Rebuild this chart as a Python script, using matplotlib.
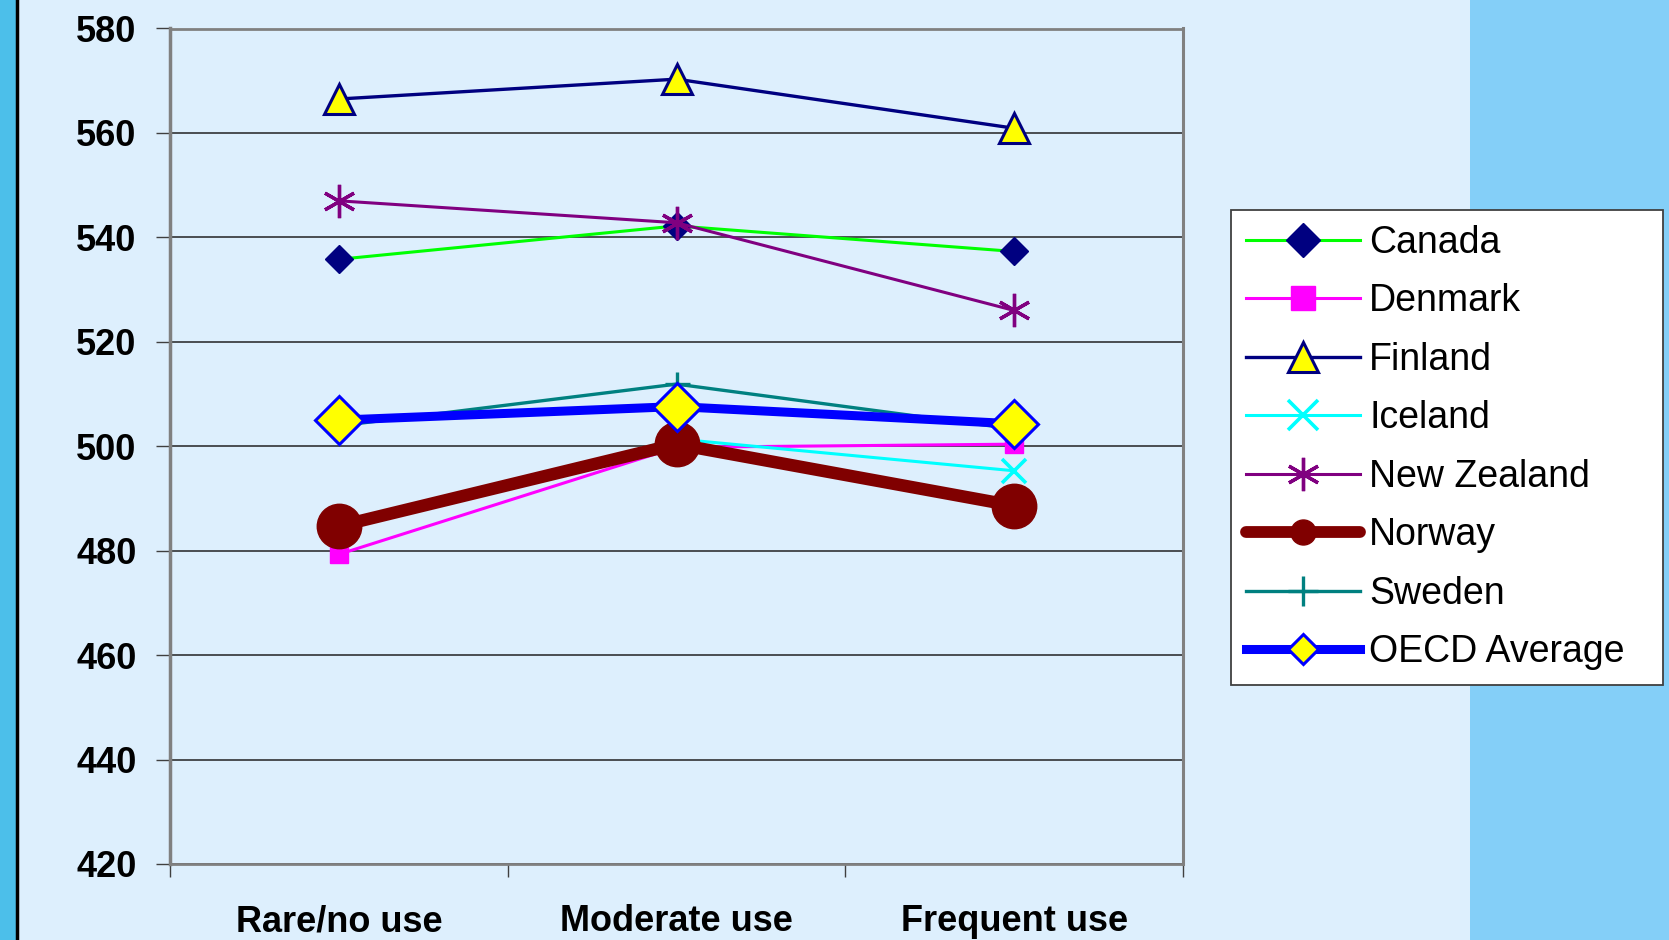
import matplotlib

matplotlib.use("Agg")
import matplotlib.pyplot as plt
from matplotlib.lines import Line2D
from matplotlib.patches import Rectangle

plt.rcParams["font.family"] = ["Liberation Sans", "DejaVu Sans"]

# data
categorias = ["Rare/no use", "Moderate use", "Frequent use"]
canada = [535.8, 542.2, 537.3]
denmark = [479.3, 499.8, 500.4]
finland = [566.5, 570.3, 560.9]
iceland = [484.1, 501.4, 495.3]
new_zealand = [547.0, 542.8, 526.0]
norway = [484.7, 500.4, 488.6]
sweden = [503.9, 511.9, 503.3]
oecd = [505.0, 507.6, 504.3]
y_ticks = [420, 440, 460, 480, 500, 520, 540, 560, 580]

FUNDO = "#DDEFFD"

# (nome, valores, estilo no grafico, estilo na legenda)
series = [
    ("Canada", canada,
     dict(color="#00FF00", lw=2.2, marker="D", ms=14, mfc="#000080", mec="#000080", mew=1),
     dict(ms=17)),
    ("Denmark", denmark,
     dict(color="#FF00FF", lw=2.2, marker="s", ms=13, mfc="#FF00FF", mec="#FF00FF", mew=1),
     dict(ms=17)),
    ("Finland", finland,
     dict(color="#000080", lw=2.4, marker="^", ms=22, mfc="#FFFF00", mec="#000080", mew=2.2),
     dict(ms=21)),
    ("Iceland", iceland,
     dict(color="#00FFFF", lw=2.2, marker="x", ms=17, mec="#00FFFF", mew=2.6),
     dict(ms=21)),
    ("New Zealand", new_zealand,
     dict(color="#800080", lw=2.2, marker=(6, 2, 0), ms=24, mec="#800080", mew=2.4),
     dict(ms=24)),
    ("Norway", norway,
     dict(color="#800000", lw=9, marker="o", ms=32, mfc="#800000", mec="#800000", mew=1,
          solid_capstyle="round"),
     dict(ms=18, lw=8.5)),
    ("Sweden", sweden,
     dict(color="#008080", lw=2.4, marker="+", ms=18, mec="#008080", mew=2.4),
     dict(ms=22)),
    ("OECD Average", oecd,
     dict(color="#0000FF", lw=6.5, marker="D", ms=24, mfc="#FFFF00", mec="#0000FF", mew=2.2),
     dict(ms=15, lw=6.5)),
]

fig = plt.figure(figsize=(16.69, 9.40), dpi=100, facecolor=FUNDO)

# faixas decorativas nas laterais
fig.patches.append(Rectangle((0, 0), 17 / 1669, 1, transform=fig.transFigure,
                             facecolor="#4CBFEA", edgecolor="none", zorder=0))
fig.add_artist(Line2D([17 / 1669, 17 / 1669], [0, 1], transform=fig.transFigure,
                      color="black", lw=2.5))
fig.patches.append(Rectangle((1470 / 1669, 0), 199 / 1669, 1, transform=fig.transFigure,
                             facecolor="#84CFF8", edgecolor="none", zorder=0))

ax = fig.add_axes([170 / 1669, 1 - 864 / 940, (1183 - 170) / 1669, (864 - 28.5) / 940])
ax.set_facecolor(FUNDO)

x = [1, 2, 3]
handles = []
for nome, valores, estilo, estilo_leg in series:
    ax.plot(x, valores, label=nome, **estilo)
    leg_estilo = dict(estilo)
    leg_estilo.update(estilo_leg)
    handles.append(Line2D([], [], **leg_estilo))

ax.set_xlim(0.5, 3.5)
ax.set_ylim(420, 580)
ax.set_yticks(y_ticks)
ax.yaxis.grid(True, color="#222222", lw=1.1)
ax.set_axisbelow(True)
ax.tick_params(axis="y", direction="out", length=10, width=1, color="#404040",
               pad=14, labelsize=26)
for lab in ax.get_yticklabels():
    lab.set_fontweight("bold")

ax.set_xticks(x)
ax.set_xticklabels(categorias, fontsize=26, fontweight="bold")
ax.set_xticks([0.5, 1.5, 2.5, 3.5], minor=True)
ax.tick_params(axis="x", which="major", length=0, pad=29)
ax.tick_params(axis="x", which="minor", direction="out", length=9, width=1, color="#404040")

for lado, larg in [("left", 2.5), ("right", 2.2), ("top", 2), ("bottom", 2)]:
    ax.spines[lado].set_color("#808080")
    ax.spines[lado].set_linewidth(larg)

leg_x0 = 1230.5 / 1669
leg_y0 = 1 - 678 / 940
leg = fig.legend(
    handles,
    [s[0] for s in series],
    loc="upper left",
    bbox_to_anchor=(leg_x0, leg_y0, (1662.6 - 1230.5) / 1669, (678 - 209.7) / 940),
    mode="expand",
    fontsize=27,
    frameon=True,
    fancybox=False,
    framealpha=1,
    facecolor="white",
    edgecolor="#404040",
    borderpad=0.4,
    labelspacing=0.6,
    handlelength=3.06,
    handletextpad=0.24,
    borderaxespad=0,
)
leg.get_frame().set_linewidth(1.3)

fig.savefig("out.png", dpi=100, facecolor=FUNDO)
